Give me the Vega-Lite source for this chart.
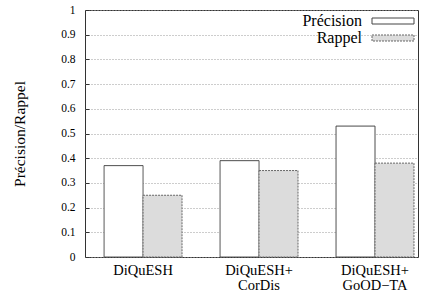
{
  "$schema": "https://vega.github.io/schema/vega-lite/v6.json",
  "width": 333,
  "height": 247,
  "autosize": "none",
  "padding": {"left": 85, "top": 10, "right": 4, "bottom": 40},
  "background": "white",
  "config": {
    "view": {"stroke": "#333333", "strokeWidth": 1},
    "font": "Liberation Serif",
    "axis": {"labelColor": "black", "titleColor": "black", "titleFontWeight": "normal"}
  },
  "data": {
    "values": [
      {"method": "DiQuESH", "series": "Précision", "value": 0.37},
      {"method": "DiQuESH", "series": "Rappel", "value": 0.25},
      {"method": "DiQuESH+ CorDis", "series": "Précision", "value": 0.39},
      {"method": "DiQuESH+ CorDis", "series": "Rappel", "value": 0.35},
      {"method": "DiQuESH+ GoOD−TA", "series": "Précision", "value": 0.53},
      {"method": "DiQuESH+ GoOD−TA", "series": "Rappel", "value": 0.38}
    ]
  },
  "mark": {"type": "bar", "strokeWidth": 1},
  "encoding": {
    "x": {
      "field": "method",
      "type": "nominal",
      "sort": null,
      "scale": {"paddingInner": 0.328, "paddingOuter": 0.0996, "align": 0.826},
      "axis": {
        "title": null,
        "labelAngle": 0,
        "labelFont": "Liberation Serif",
        "labelFontSize": 14.5,
        "labelFontWeight": "normal",
        "labelColor": "black",
        "labelPadding": 6,
        "labelLineHeight": 15.5,
        "labelExpr": "split(datum.label, ' ')",
        "ticks": false,
        "domain": false,
        "grid": false
      }
    },
    "xOffset": {
      "field": "series",
      "type": "nominal",
      "sort": ["Précision", "Rappel"],
      "scale": {"paddingInner": 0, "paddingOuter": 0}
    },
    "y": {
      "field": "value",
      "type": "quantitative",
      "scale": {"domain": [0, 1], "nice": false},
      "axis": {
        "title": "Précision/Rappel",
        "titleFont": "Liberation Serif",
        "titleFontSize": 15.5,
        "titleFontWeight": "normal",
        "titleColor": "black",
        "titlePadding": 33,
        "values": [0, 0.1, 0.2, 0.3, 0.4, 0.5, 0.6, 0.7, 0.8, 0.9, 1],
        "format": "~g",
        "labelFont": "Liberation Serif",
        "labelFontSize": 11.5,
        "labelColor": "black",
        "tickSize": -4,
        "tickColor": "#333333",
        "labelPadding": 14,
        "domain": false,
        "grid": true,
        "gridColor": "#9a9a9a",
        "gridDash": [1, 2],
        "gridWidth": 1
      }
    },
    "fill": {
      "field": "series",
      "type": "nominal",
      "scale": {"domain": ["Précision", "Rappel"], "range": ["#ffffff", "#dcdcdc"]},
      "legend": {
        "title": null,
        "orient": "none",
        "legendX": 300,
        "legendY": 3,
        "padding": 0,
        "symbolType": "M-4.2,-0.6H4.2V0.6H-4.2Z",
        "symbolSize": 100,
        "symbolStrokeWidth": 1,
        "labelFont": "Liberation Serif",
        "labelFontSize": 16,
        "labelColor": "black",
        "labelAlign": "right",
        "labelOffset": -39,
        "rowPadding": 1
      }
    },
    "stroke": {
      "field": "series",
      "type": "nominal",
      "scale": {"domain": ["Précision", "Rappel"], "range": ["#444444", "#666666"]},
      "legend": null
    },
    "strokeDash": {
      "field": "series",
      "type": "nominal",
      "scale": {"domain": ["Précision", "Rappel"], "range": [[1, 0], [2, 1]]},
      "legend": null
    }
  }
}
